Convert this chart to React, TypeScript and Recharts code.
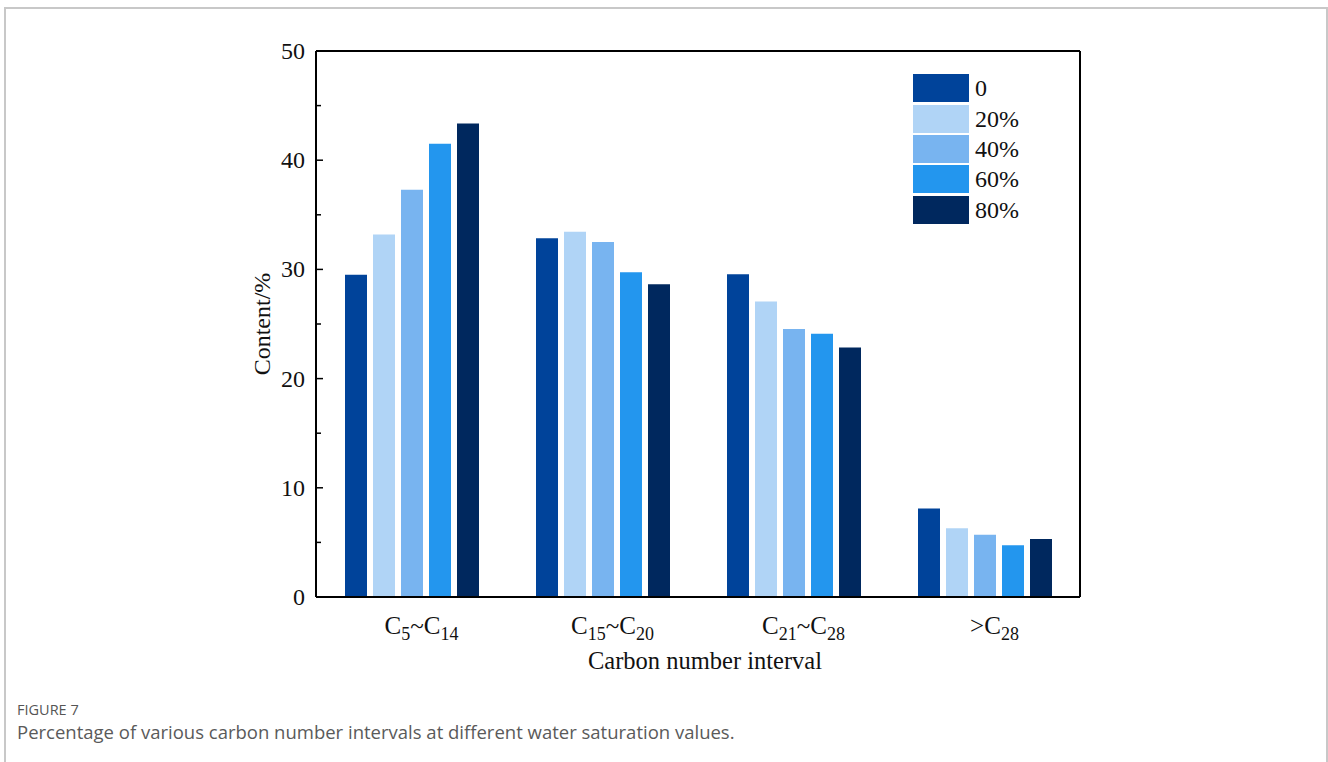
import { BarChart, Bar, XAxis, YAxis, Legend, Label } from 'recharts'

const categories = ['C5~C14', 'C15~C20', 'C21~C28', '>C28']
const seriesNames = ['0', '20%', '40%', '60%', '80%']
const sat0 = [29.5, 32.85, 29.55, 8.1]
const sat20 = [33.2, 33.45, 27.05, 6.3]
const sat40 = [37.3, 32.5, 24.55, 5.7]
const sat60 = [41.5, 29.75, 24.1, 4.75]
const sat80 = [43.35, 28.65, 22.85, 5.3]
const yTicks = [0, 5, 10, 15, 20, 25, 30, 35, 40, 45, 50]

const colors = ['#00439A', '#B0D4F6', '#78B4F0', '#2396EE', '#00285E']
const serif = '"Liberation Serif", "Times New Roman", serif'
const sans = '"Open Sans", Lato, sans-serif'

const seriesValues = [sat0, sat20, sat40, sat60, sat80]
const data = categories.map((c, i) => {
  const row: Record<string, string | number> = { name: c }
  seriesNames.forEach((s, j) => {
    row[s] = seriesValues[j][i]
  })
  return row
})

// y ticks drawn inward, labels only on the tens
const YTick = (props: any) => {
  const { x, y, payload } = props
  const v = payload.value
  const major = v % 10 === 0
  const ax = x + 11
  return (
    <g>
      <line x1={ax} x2={ax + (major ? 7 : 5)} y1={y} y2={y} stroke="#000" strokeWidth={1.5} />
      {major && (
        <text x={x} y={y} dy={8} textAnchor="end" fontFamily={serif} fontSize={24} fill="#111">
          {v}
        </text>
      )}
    </g>
  )
}

// carbon numbers written as subscripts
const XTick = (props: any) => {
  const { x, y, payload } = props
  const parts = String(payload.value).split(/(\d+)/).filter(Boolean)
  let shifted = false
  return (
    <text x={x + 10} y={y + 37} textAnchor="middle" fontFamily={serif} fontSize={25} fill="#111">
      {parts.map((p, i) => {
        const isNum = /^\d+$/.test(p)
        let dy = 0
        if (isNum && !shifted) { dy = 6; shifted = true }
        else if (!isNum && shifted) { dy = -6; shifted = false }
        return (
          <tspan key={i} dy={dy} fontSize={isNum ? 18 : 25}>{p}</tspan>
        )
      })}
    </text>
  )
}

const LegendBox = (props: any) => {
  const { payload } = props
  return (
    <div style={{ fontFamily: serif, fontSize: 24, color: '#111' }}>
      {payload.map((e: any) => (
        <div key={e.value} style={{ display: 'flex', alignItems: 'center', height: 30.4 }}>
          <span style={{ display: 'inline-block', width: 56, height: 28, background: e.color }} />
          <span style={{ marginLeft: 6, lineHeight: '28px' }}>{e.value}</span>
        </div>
      ))}
    </div>
  )
}

export default function App() {
  return (
    <div style={{ position: 'absolute', left: 0, top: 0, width: 1328, height: 762, overflow: 'hidden', background: '#fff' }}>
      <div style={{ position: 'absolute', left: 4, top: 7, width: 1324, height: 800, border: '2px solid #c8c8c8', boxSizing: 'border-box' }} />
      <div style={{ position: 'absolute', left: 0, top: 0 }}>
        <BarChart
          width={1328}
          height={762}
          data={data}
          margin={{ top: 50, right: 247, bottom: 85, left: 256 }}
          barSize={22}
          barGap={6}
        >
          <XAxis
            dataKey="name"
            xAxisId="bottom"
            height={80}
            tickSize={0}
            tickMargin={0}
            tickLine={false}
            axisLine={{ stroke: '#000', strokeWidth: 2 }}
            tick={<XTick />}
            interval={0}
          >
            <Label
              content={(p: any) => {
                const vb = p.viewBox
                return (
                  <text x={vb.x + vb.width / 2 + 7} y={vb.y + 72} textAnchor="middle" fontFamily={serif} fontSize={24.5} fill="#111">
                    Carbon number interval
                  </text>
                )
              }}
            />
          </XAxis>
          <XAxis dataKey="name" xAxisId="top" orientation="top" height={1} tick={false} tickLine={false} axisLine={{ stroke: '#000', strokeWidth: 2 }} />
          <YAxis
            yAxisId="left"
            width={60}
            domain={[0, 50]}
            ticks={yTicks}
            interval={0}
            tickSize={0}
            tickMargin={11}
            tickLine={false}
            axisLine={{ stroke: '#000', strokeWidth: 2 }}
            tick={<YTick />}
          >
            <Label
              content={(p: any) => {
                const vb = p.viewBox
                const cx = 270
                const cy = vb.y + vb.height / 2
                return (
                  <text x={cx} y={cy} textAnchor="middle" transform={`rotate(-90, ${cx}, ${cy})`} fontFamily={serif} fontSize={24} fill="#111">
                    Content/%
                  </text>
                )
              }}
            />
          </YAxis>
          <YAxis yAxisId="right" orientation="right" width={1} domain={[0, 50]} tick={false} tickLine={false} axisLine={{ stroke: '#000', strokeWidth: 2 }} />
          <Legend
            layout="horizontal"
            verticalAlign="middle"
            align="center"
            content={<LegendBox />}
            wrapperStyle={{ top: 73, left: 913, width: 120, height: 160 }}
          />
          {seriesNames.map((s, i) => (
            <Bar key={s} dataKey={s} name={s} fill={colors[i]} xAxisId="bottom" yAxisId="left" isAnimationActive={false} />
          ))}
        </BarChart>
      </div>
      <div style={{ position: 'absolute', left: 17, top: 703, fontFamily: sans, fontSize: 14.5, lineHeight: 1, color: '#555' }}>
        FIGURE 7
      </div>
      <div style={{ position: 'absolute', left: 17, top: 723, fontFamily: sans, fontSize: 18.5, lineHeight: 1, color: '#5a5a5a' }}>
        Percentage of various carbon number intervals at different water saturation values.
      </div>
    </div>
  )
}
